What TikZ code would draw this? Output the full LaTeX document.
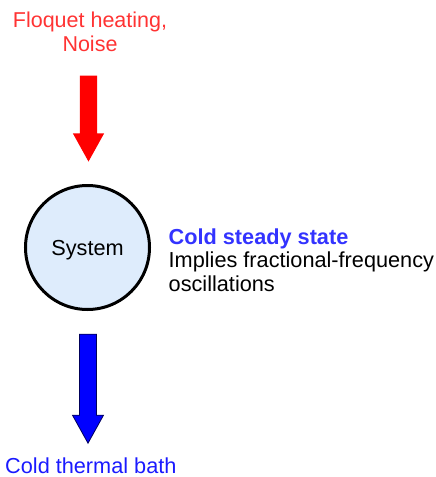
\documentclass[tikz,border=0pt]{standalone}
\usepackage{fontspec}
\setmainfont{Liberation Sans}
\usetikzlibrary{shapes.arrows}
\definecolor{heatred}{RGB}{255,51,51}
\definecolor{sysblue}{RGB}{222,236,252}
\definecolor{stateblue}{RGB}{51,51,255}
\definecolor{bathblue}{RGB}{26,26,255}
\definecolor{navy}{RGB}{0,0,90}

\begin{document}
\begin{tikzpicture}[x=1pt,y=-1pt,inner sep=0pt,
  txt/.style={font=\fontsize{21.7}{23.5}\selectfont},
  flow/.style={single arrow,shape border rotate=270,minimum width=31pt,
    single arrow head extend=7pt,single arrow tip angle=58,inner sep=8.5pt,anchor=tip}]
\useasboundingbox (0,0) rectangle (436,477);
\node (heat) at (90,52) [txt,text=heatred,align=center,anchor=south,
  font=\fontsize{21.5}{24}\selectfont] {Floquet heating,\\Noise};
\node (heatin) at (88.5,162) [flow,fill=red,minimum height=86pt] {};
\node (system) at (87.5,247.5) [circle,draw=black,line width=3pt,fill=sysblue,
  minimum size=124pt,txt,text depth=0pt] {System};
\node (state) at (168.5,291.5) [txt,align=left,anchor=south west]
  {\textcolor{stateblue}{\textbf{Cold steady state}}\\Implies fractional-frequency\\oscillations};
\node (coolout) at (88,444) [flow,fill=blue,draw=navy,line width=0.8pt,
  minimum height=109pt,inner sep=8pt] {};
\node (bath) at (5,473) [txt,text=bathblue,anchor=base west] {Cold thermal bath};
\end{tikzpicture}
\end{document}
